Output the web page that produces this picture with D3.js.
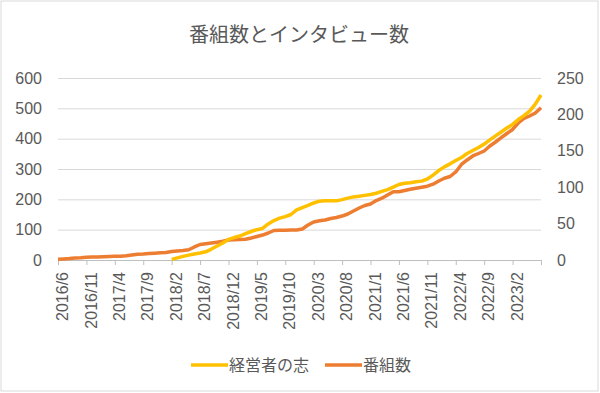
<!DOCTYPE html>
<html>
<head>
<meta charset="utf-8">
<script src="https://cdn.jsdelivr.net/npm/d3@7"></script>
<style>
  body { margin: 0; background: #fff; }
  svg { display: block; font-family: "Noto Sans CJK JP", "Noto Sans", sans-serif; }
</style>
</head>
<body>
<svg width="600" height="393"></svg>
<script>
// months 2016/6 .. 2023/7
const months = d3.timeMonth.range(new Date(2016, 5, 1), new Date(2023, 7, 1)).map(d3.timeFormat("%Y/%-m"));

const tickLabels = ["2016/6","2016/11","2017/4","2017/9","2018/2","2018/7","2018/12","2019/5","2019/10",
  "2020/3","2020/8","2021/1","2021/6","2021/11","2022/4","2022/9","2023/2"];

// 経営者の志 (left axis), starts 2018/2
const shi = [null,null,null,null,null,null,null,null,null,null,
  null,null,null,null,null,null,null,null,null,null,
  2,7,12,16,20,23,27,36,46,56,
  68,74,79,87,94,100,104,119,130,138,
  143,150,165,173,180,188,194,195,195,195,
  199,204,208,210,213,216,220,226,232,240,
  249,253,255,258,260,267,280,295,307,317,
  328,338,351,361,371,382,396,409,422,435,
  447,463,476,491,514,544];

// 番組数 (right axis)
const bangumi = [1,1.5,2,2.7,3,3.7,4,4.2,4.5,4.8,
  5,5.3,5.8,6.9,7.8,8.2,8.8,9.3,9.9,10.4,
  11.7,12.4,13,14,17.9,21.3,22.3,23.4,24.5,25.7,
  27.5,27.9,28.2,28.4,30.2,32.3,34.3,37.1,40.5,40.8,
  41,41.1,41.2,42.6,48,52.2,53.8,55,57,58.4,
  60.4,63.2,67.3,71.4,74.9,76.9,81.7,84.9,89.3,93.8,
  93.8,95.5,97.1,98.5,99.9,101.4,104.1,108.5,112.3,114.7,
  120.9,131.2,137.4,142.9,146.3,149.7,156.6,162.1,168,173.8,
  179.3,188.2,194.4,197.8,201.9,209.2];

const leftTicks = [0,100,200,300,400,500,600];
const rightTicks = [0,50,100,150,200,250];

const seriesNames = ["経営者の志", "番組数"];
const colors = ["#FFC000", "#ED7D31"];

const svg = d3.select("svg");
const W = 600, H = 393;
const margin = {top: 78, left: 58, right: 59, bottom: 133};
const innerW = W - margin.left - margin.right;
const innerH = H - margin.top - margin.bottom;

svg.append("rect")
  .attr("x", 1).attr("y", 1).attr("width", 597).attr("height", 390)
  .attr("fill", "#fff").attr("stroke", "#D9D9D9");

svg.append("text")
  .attr("x", 299).attr("y", 42)
  .attr("text-anchor", "middle")
  .attr("font-size", 20).attr("fill", "#595959")
  .text("番組数とインタビュー数");

const g = svg.append("g").attr("transform", `translate(${margin.left},${margin.top})`);

const x = d3.scalePoint().domain(months).range([0, innerW]);
const yL = d3.scaleLinear().domain([0, 600]).range([innerH, 0]);
const yR = d3.scaleLinear().domain([0, 250]).range([innerH, 0]);

// gridlines
g.append("g")
  .call(d3.axisLeft(yL).tickValues(leftTicks).tickSize(-innerW).tickFormat(""))
  .call(a => a.select(".domain").remove())
  .selectAll(".tick line").attr("stroke", "#D9D9D9").attr("stroke-width", 1);

// left axis labels
const la = g.append("g")
  .call(d3.axisLeft(yL).tickValues(leftTicks).tickSize(0).tickPadding(16));
la.select(".domain").remove();
la.selectAll("text").attr("font-size", 16).attr("fill", "#595959").attr("font-family", "inherit");

// right axis labels
const ra = g.append("g").attr("transform", `translate(${innerW},0)`)
  .call(d3.axisRight(yR).tickValues(rightTicks).tickSize(0).tickPadding(16));
ra.select(".domain").remove();
ra.selectAll("text").attr("font-size", 16).attr("fill", "#595959").attr("font-family", "inherit");

// bottom axis
const xa = g.append("g").attr("transform", `translate(0,${innerH})`)
  .call(d3.axisBottom(x).tickValues(tickLabels.concat([months[months.length - 1]])).tickSize(5)
    .tickFormat(d => tickLabels.includes(d) ? d : ""));
xa.select(".domain").attr("stroke", "#BFBFBF");
xa.selectAll(".tick line").attr("stroke", "#BFBFBF");
xa.selectAll("text")
  .attr("font-size", 16).attr("fill", "#595959").attr("font-family", "inherit")
  .attr("text-anchor", "end")
  .attr("transform", "translate(4,12) rotate(-90)")
  .attr("x", 0).attr("y", 0).attr("dy", "0.35em");

// lines
const lineL = d3.line().defined(d => d != null).x((d, i) => x(months[i])).y(d => yL(d));
const lineR = d3.line().x((d, i) => x(months[i])).y(d => yR(d));

g.append("path").datum(bangumi)
  .attr("fill", "none").attr("stroke", colors[1]).attr("stroke-width", 3.5)
  .attr("stroke-linejoin", "round").attr("d", lineR);

g.append("path").datum(shi)
  .attr("fill", "none").attr("stroke", colors[0]).attr("stroke-width", 3.5)
  .attr("stroke-linejoin", "round").attr("d", lineL);

// legend
const legend = svg.append("g").attr("transform", "translate(0,365)");
const legX = [191, 325];
seriesNames.forEach((name, i) => {
  const lg = legend.append("g").attr("transform", `translate(${legX[i]},0)`);
  lg.append("line").attr("x1", 0).attr("x2", 37).attr("y1", 0).attr("y2", 0)
    .attr("stroke", colors[i]).attr("stroke-width", 3.5);
  lg.append("text").attr("x", 38).attr("y", 0).attr("dy", "0.35em")
    .attr("font-size", 16).attr("fill", "#595959").text(name);
});
</script>
</body>
</html>
